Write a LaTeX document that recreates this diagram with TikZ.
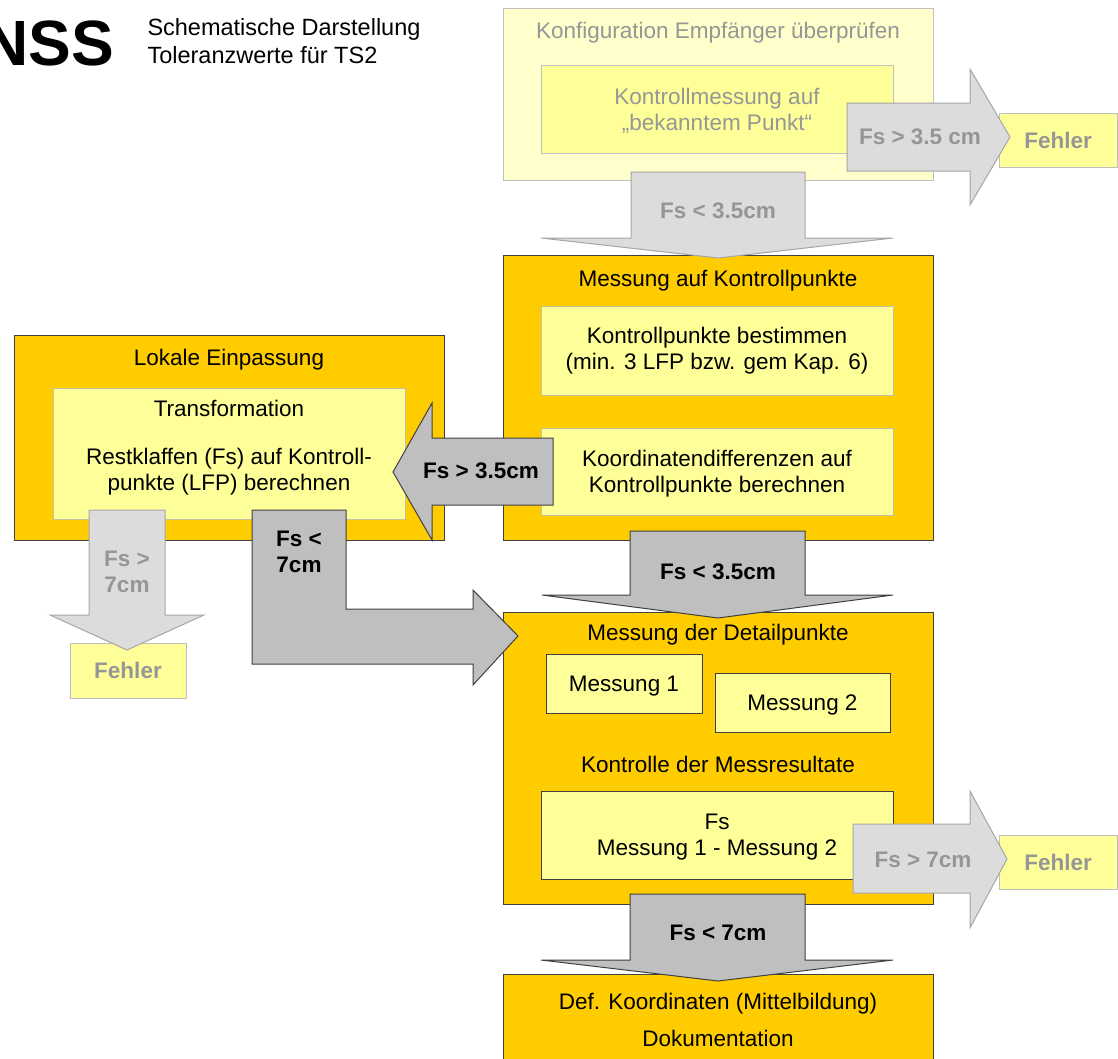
\documentclass[tikz,border=0pt]{standalone}
\usepackage{fontspec}
\setmainfont{Liberation Sans}
\usepackage{tikz}
\usetikzlibrary{positioning}

\definecolor{gold}{HTML}{FFCC00}
\definecolor{lemon}{HTML}{FFFF99}
\definecolor{cream}{HTML}{FFFFCC}
\definecolor{arrowdark}{HTML}{BFBFBF}
\definecolor{arrowlight}{HTML}{DCDCDC}
\definecolor{darkline}{HTML}{404040}
\definecolor{paleline}{HTML}{BFBFBF}
\definecolor{lightline}{HTML}{A6A6A6}
\definecolor{lemonline}{HTML}{C4C4A4}
\definecolor{fadedtext}{HTML}{969696}

\begin{document}
\begin{tikzpicture}[x=1pt, y=-1pt, line width=1pt,
	every node/.style={font=\fontsize{22.5pt}{26pt}\selectfont, inner sep=0pt, align=center, text depth=0pt},
	goldbox/.style={draw=darkline, fill=gold},
	lemonbox/.style={draw=lemonline, fill=lemon},
	sharpbox/.style={draw=darkline, fill=lemon},
	fadedbox/.style={draw=paleline, fill=lemon, text=fadedtext},
	darkarrow/.style={draw=darkline, fill=arrowdark},
	lightarrow/.style={draw=lightline, fill=arrowlight},
	darklabel/.style={font=\fontsize{22.5pt}{26pt}\selectfont\bfseries},
	lightlabel/.style={font=\fontsize{22.5pt}{26pt}\selectfont\bfseries, text=fadedtext}]

	\useasboundingbox (0,0) rectangle (1118,1058);

	\node (nss) [anchor=base west, font=\fontsize{64pt}{64pt}\selectfont\bfseries] at (-18,65) {NSS};
	\node (head) [anchor=west, align=left, font=\fontsize{23.5pt}{28pt}\selectfont] at (147,40.5)
		{Schematische Darstellung\\Toleranzwerte für TS2};

	\node [draw=paleline, fill=cream, minimum width=430pt, minimum height=172pt] (conf) at (718,94) {};
	\node [text=fadedtext] (conft) [below=14pt of conf.north] {Konfiguration Empfänger überprüfen};
	\node [fadedbox, minimum width=352pt, minimum height=88pt] (kmess) at (717,109)
		{Kontrollmessung auf\\„bekanntem Punkt“};
	\node [fadedbox, minimum width=118pt, minimum height=54pt, font=\fontsize{22.5pt}{26pt}\selectfont\bfseries]
		(fehlerA) at (1058,140) {Fehler};

	\node [goldbox, minimum width=430pt, minimum height=285pt] (mak) at (718,397.5) {};
	\node (makt) [below=15.5pt of mak.north] {Messung auf Kontrollpunkte};
	\node [lemonbox, minimum width=352pt, minimum height=89pt] (kpb) at (717,350.5) {};
	\node (kpbt) at (717,348.5) {Kontrollpunkte bestimmen\\(min. 3 LFP bzw. gem Kap. 6)};
	\node [lemonbox, minimum width=352pt, minimum height=87pt] (kdb) at (717,471.5)
		{Koordinatendifferenzen auf\\Kontrollpunkte berechnen};

	\node [goldbox, minimum width=430pt, minimum height=205pt] (lok) at (229,437.5) {};
	\node (lokt) [below=14.5pt of lok.north] {Lokale Einpassung};
	\node [lemonbox, minimum width=352pt, minimum height=131pt] (trafo) at (229,453.5) {};
	\node (trafot) at (229,445.5)
		{Transformation\\[22pt]Restklaffen (Fs) auf Kontroll-\\punkte (LFP) berechnen};
	\node [fadedbox, minimum width=116pt, minimum height=55pt, font=\fontsize{22.5pt}{26pt}\selectfont\bfseries]
		(fehlerB) at (128,670.5) {Fehler};

	\node [goldbox, minimum width=430pt, minimum height=292pt] (mdp) at (718,758) {};
	\node (mdpt) [below=12.5pt of mdp.north] {Messung der Detailpunkte};
	\node [sharpbox, minimum width=156pt, minimum height=59pt] (mA) at (624,683.5) {Messung 1};
	\node [sharpbox, minimum width=175pt, minimum height=59pt] (mB) at (802.5,702.5) {Messung 2};
	\node (kmr) at (718,764) {Kontrolle der Messresultate};
	\node [sharpbox, minimum width=352pt, minimum height=88pt] (fsbox) at (717,835)
		{Fs\\Messung 1 - Messung 2};
	\node [fadedbox, minimum width=118pt, minimum height=54pt, font=\fontsize{22.5pt}{26pt}\selectfont\bfseries]
		(fehlerC) at (1058,862) {Fehler};

	\node [goldbox, minimum width=430pt, minimum height=101pt] (def) at (718,1024.5) {};
	\node (deft) at (718,1019.5) {Def. Koordinaten (Mittelbildung)\\[11pt]Dokumentation};

	\draw[lightarrow] (631,172) -- (805,172) -- (805,238) -- (893,238) -- (718,258) -- (541,238) -- (631,238) -- cycle;
	\node [lightlabel] (okA) at (718,211) {Fs < 3.5cm};

	\draw[lightarrow] (847,103) -- (970,103) -- (970,69) -- (1010,137) -- (970,205) -- (970,171) -- (847,171) -- cycle;
	\node [lightlabel] (errA) at (920,137) {Fs > 3.5 cm};

	\draw[darkarrow] (553,438) -- (432,438) -- (432,403) -- (393,472) -- (432,540) -- (432,505) -- (553,505) -- cycle;
	\node [darklabel] (fit) at (481,471) {Fs > 3.5cm};

	\draw[lightarrow] (89,510) -- (165,510) -- (165,615) -- (204,615) -- (127,650) -- (50,615) -- (89,615) -- cycle;
	\node [lightlabel] (errB) at (127,572) {Fs >\\7cm};

	\draw[darkarrow] (252,510) -- (346,510) -- (346,609) -- (473,609) -- (473,590) -- (518,636) -- (473,685)
		-- (473,664) -- (252,664) -- cycle;
	\node [darklabel] (okB) at (299,552) {Fs <\\7cm};

	\draw[darkarrow] (630,531) -- (805,531) -- (805,595) -- (893,595) -- (718,618) -- (542,595) -- (630,595) -- cycle;
	\node [darklabel] (okC) at (718,572) {Fs < 3.5cm};

	\draw[lightarrow] (853,824) -- (970,824) -- (970,791) -- (1007,859) -- (970,928) -- (970,893) -- (853,893) -- cycle;
	\node [lightlabel] (errC) at (923,860) {Fs > 7cm};

	\draw[darkarrow] (630,894) -- (805,894) -- (805,960) -- (893,960) -- (718,981) -- (541,960) -- (630,960) -- cycle;
	\node [darklabel] (okD) at (718,933) {Fs < 7cm};

\end{tikzpicture}
\end{document}
